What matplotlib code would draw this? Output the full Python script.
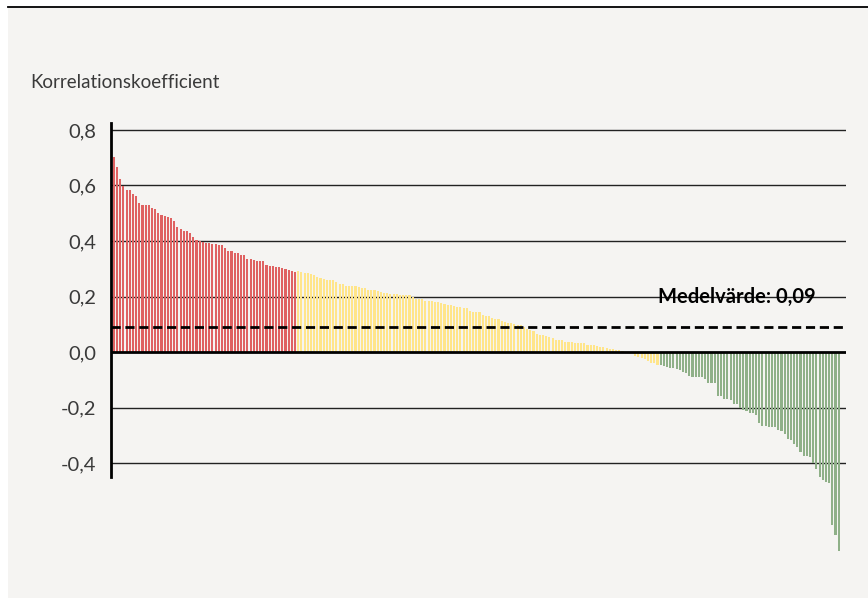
import numpy as np
import matplotlib.pyplot as plt

# Korrelationskoefficienter, sorterade
red_vals = [0.704, 0.668, 0.623, 0.598, 0.584, 0.584, 0.569, 0.562, 0.538, 0.530,
            0.530, 0.530, 0.520, 0.515, 0.502, 0.494, 0.490, 0.486, 0.483, 0.472,
            0.450, 0.442, 0.436, 0.436, 0.429, 0.414, 0.405, 0.400, 0.398, 0.394,
            0.394, 0.389, 0.389, 0.386, 0.386, 0.375, 0.364, 0.364, 0.357,
            0.357, 0.350, 0.350, 0.335, 0.335, 0.332, 0.328, 0.328, 0.328, 0.314,
            0.310, 0.310, 0.306, 0.306, 0.303, 0.299, 0.296, 0.292, 0.288]

yellow_vals = [0.292, 0.288, 0.285, 0.285, 0.281, 0.277, 0.270, 0.267, 0.263, 0.259,
               0.259, 0.259, 0.252, 0.245, 0.245, 0.238, 0.238, 0.238, 0.238, 0.234,
               0.231, 0.231, 0.223, 0.223, 0.223, 0.220, 0.216, 0.213, 0.213, 0.209,
               0.209, 0.209, 0.205, 0.205,
               0.204, 0.204, 0.199, 0.192, 0.191, 0.191, 0.184, 0.184, 0.184, 0.180,
               0.180, 0.175, 0.173, 0.169, 0.169, 0.167, 0.162, 0.162, 0.160, 0.159,
               0.148, 0.144, 0.144, 0.144, 0.133, 0.130, 0.130, 0.123, 0.119, 0.119,
               0.112, 0.108, 0.105,
               0.105, 0.101, 0.097, 0.097, 0.090, 0.083, 0.079, 0.076, 0.065, 0.061,
               0.061, 0.058, 0.054, 0.050, 0.043, 0.043, 0.043, 0.036, 0.036, 0.036,
               0.032, 0.032, 0.032, 0.032, 0.025, 0.025, 0.025, 0.022, 0.018, 0.018,
               0.014, 0.011, 0.011, 0.007, 0.007, 0.004, 0.002, -0.002,
               -0.005, -0.013, -0.017, -0.020, -0.024, -0.031, -0.038, -0.038, -0.046]

green_vals = [-0.047, -0.050, -0.054, -0.058, -0.058, -0.061, -0.065, -0.072, -0.076, -0.086,
              -0.090, -0.090, -0.090, -0.090, -0.097, -0.112, -0.112, -0.112, -0.159, -0.159,
              -0.169, -0.169, -0.173, -0.187,
              -0.186, -0.203, -0.208, -0.211, -0.219, -0.219, -0.226, -0.255, -0.265, -0.265,
              -0.269, -0.269, -0.269, -0.280, -0.283, -0.294, -0.312, -0.316, -0.330, -0.341,
              -0.359, -0.374, -0.374, -0.377, -0.399, -0.420, -0.449, -0.460, -0.467, -0.471,
              -0.622, -0.658, -0.716]

mean_value = 0.09
yticks = [-0.4, -0.2, 0.0, 0.2, 0.4, 0.6, 0.8]
ytick_labels = ["-0,4", "-0,2", "0,0", "0,2", "0,4", "0,6", "0,8"]

bg = "#f5f4f2"
plt.rcParams['font.family'] = ['Lato', 'DejaVu Sans']

fig = plt.figure(figsize=(8.68, 5.98), dpi=100, facecolor="white")
W, H = 868, 598

# grå bakgrund och linje överst
fig.patches.append(plt.Rectangle((8 / W, 0), 1, 1 - 8 / H, transform=fig.transFigure,
                                 facecolor=bg, edgecolor="none", zorder=-10))
fig.add_artist(plt.Line2D([8 / W, 1], [1 - 7 / H, 1 - 7 / H], transform=fig.transFigure,
                          color="black", lw=1.3))

ax = fig.add_axes([111 / W, 1 - 477 / H, (846 - 111) / W, (477 - 123) / H])
ax.set_facecolor("none")

n_red, n_yel, n_grn = len(red_vals), len(yellow_vals), len(green_vals)
x_red = np.arange(n_red)
x_yel = np.arange(n_red, n_red + n_yel)
x_grn = np.arange(n_red + n_yel, n_red + n_yel + n_grn)

w = 0.66
ax.bar(x_red, red_vals, width=w, color="#df6262", zorder=2, clip_on=False)
ax.bar(x_yel, yellow_vals, width=w, color="#ffe58a", zorder=2, clip_on=False)
ax.bar(x_grn, green_vals, width=w, color="#8fb088", zorder=2, clip_on=False)

total = n_red + n_yel + n_grn
ax.set_xlim(-0.9, total + 1.3)
ax.set_ylim(-0.45, 0.825)

for t in yticks:
    if t == 0:
        ax.axhline(0, color="black", lw=2, zorder=3)
    else:
        ax.axhline(t, color="#222222", lw=1, zorder=1)

ax.axhline(mean_value, color="black", lw=2, ls=(0, (3.3, 1.7)), zorder=4)
ax.text(0.959, 0.2, "Medelvärde: 0,09", transform=ax.get_yaxis_transform(),
        ha="right", va="center", fontsize=14.5, fontweight="bold", color="black", zorder=5)

ax.set_xticks([])
ax.set_yticks(yticks)
ax.set_yticklabels(ytick_labels, fontsize=14.5, color="#3a3a3a")
ax.tick_params(axis="y", length=0, pad=10.8)
for s in ["top", "right", "bottom"]:
    ax.spines[s].set_visible(False)
ax.spines["left"].set_linewidth(2)
ax.spines["left"].set_color("black")

fig.text(30 / W, 1 - 83 / H, "Korrelationskoefficient", ha="left", va="center",
         fontsize=13.5, color="#3a3a3a")

fig.savefig("out.png", dpi=100, facecolor="white")
